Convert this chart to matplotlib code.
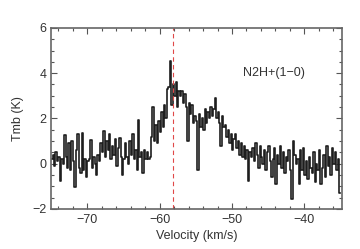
import numpy as np
import matplotlib
matplotlib.use("Agg")
import matplotlib.pyplot as plt
from matplotlib.ticker import MultipleLocator

# spectrum: channel centres start at -74.9 km/s, 0.2 km/s wide
v_start = -74.9
dv = 0.2
tmb = [
    0.2, 0.4, -0.1, 0.5, 0.1, 0.3, -0.75, 0.2, 0.0, 1.25,
    0.3, -0.2, 0.9, -0.3, 1.0, 0.1, -1.05, 0.6, 1.3, -0.2,
    -0.4, 1.35, -0.3, 0.2, -0.6, 0.1, 0.2, 1.05, -0.2, 0.3,
    0.0, -0.5, 0.4, 0.1, 0.9, 0.5, 1.45, 0.3, 1.0, 0.6,
    1.3, 0.2, 0.8, 0.4, 1.1, -0.1, 0.7, 1.15, 0.3, -0.5,
    0.2, 0.9, 0.3, 0.0, 1.0, 0.4, 1.3, 0.2, 0.6, -0.3,
    1.95, 0.3, 0.5, -0.4, 0.6, 0.2, 0.5, 0.2, 0.3, 1.2,
    2.5, 1.0, 1.7, 0.9, 1.9, 1.4, 2.3, 1.6, 2.6, 2.0,
    3.3, 3.4, 4.55, 2.6, 3.5, 3.0, 3.6, 2.5, 3.2, 3.0,
    3.2, 2.7, 3.1, 2.5, 1.0, 2.7, 2.2, 2.6, 1.8, 2.1,
    1.9, -0.3, 2.2, 1.6, 2.0, 1.5, 2.4, 1.8, 2.3, 2.0,
    2.5, 2.1, 2.4, 2.9, 2.0, 2.3, 1.8, 0.8, 2.1, 1.6,
    1.7, 1.2, 1.5, 0.9, 1.3, 0.6, 1.1, 1.3, 0.7, 1.0,
    0.4, 0.9, 0.3, 0.8, 0.2, 0.6, -0.75, 0.5, 0.3, 0.7,
    0.1, 0.9, 0.4, -0.2, 0.8, 0.3, 0.0, 0.6, -0.3, 0.5,
    0.8, 0.1, -0.6, 0.2, 0.7, -0.9, 0.4, 0.0, 0.8, -0.2,
    0.5, -0.4, 0.3, 0.1, 0.6, -0.3, -1.55, 1.0, 0.4, 0.0,
    0.2, -0.9, 0.6, -0.3, 0.7, -0.5, 0.1, -0.7, 0.3, -0.2,
    -0.4, 0.5, -0.8, 0.0, -0.3, 0.6, -0.9, -0.2, 0.4, -0.6,
    0.8, -0.1, 0.3, -0.5, 0.7, 0.0, 0.5, -0.3, 0.2, -1.3,
]
velocity = v_start + dv * np.arange(len(tmb))
v_line = -58.1
label = "N2H+(1\u22120)"

plt.rcParams['font.family'] = ['Liberation Sans', 'DejaVu Sans']
fig = plt.figure(figsize=(3.6, 2.49), dpi=100)
ax = fig.add_axes([0.142, 0.161, 0.808, 0.727])

ax.step(velocity, tmb, where='mid', color='#1e1e1e', lw=1.2)
ax.axvline(v_line, color='#e04848', ls=(0, (4, 3)), lw=0.8)
ax.text(-48.5, 4.0, label, fontsize=9, color='#333333', va='center')

ax.set_xlim(-75, -34.8)
ax.set_ylim(-2, 6)
ax.xaxis.set_major_locator(MultipleLocator(10))
ax.xaxis.set_minor_locator(MultipleLocator(2))
ax.yaxis.set_major_locator(MultipleLocator(2))
ax.yaxis.set_minor_locator(MultipleLocator(0.5))
ax.tick_params(which='both', direction='in', top=True, right=True,
               colors='#555555', labelcolor='#333333', labelsize=9, width=0.8)
ax.tick_params(which='major', length=4)
ax.tick_params(which='minor', length=2)
for s in ax.spines.values():
    s.set_color('#666666')
    s.set_linewidth(1.2)

ax.set_xlabel('Velocity (km/s)', fontsize=9, color='#333333', labelpad=3)
ax.set_ylabel('Tmb (K)', fontsize=9, color='#333333', labelpad=6)

fig.savefig('out.png', dpi=100)
